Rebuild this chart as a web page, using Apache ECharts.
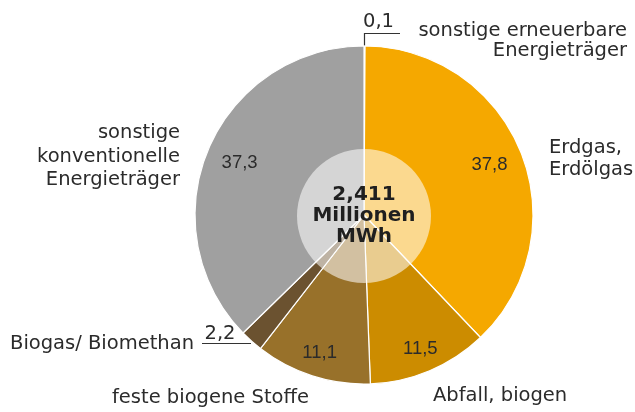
<!DOCTYPE html>
<html><head><meta charset="utf-8">
<script src="https://cdn.jsdelivr.net/npm/echarts@6/dist/echarts.min.js"></script>
<style>html,body{margin:0;padding:0;background:#fff}#c{width:635px;height:412px}</style>
</head><body><div id="c"></div>
<script>
// Data
const categories = ['sonstige erneuerbare Energieträger', 'Erdgas, Erdölgas', 'Abfall, biogen', 'feste biogene Stoffe', 'Biogas/ Biomethan', 'sonstige konventionelle Energieträger'];
const categoryLabelLines = [['sonstige erneuerbare', 'Energieträger'], ['Erdgas,', 'Erdölgas'], ['Abfall, biogen'], ['feste biogene Stoffe'], ['Biogas/ Biomethan'], ['sonstige', 'konventionelle', 'Energieträger']];
const shares = [0.1, 37.8, 11.5, 11.1, 2.2, 37.3];
const totalLabel = ['2,411', 'Millionen', 'MWh'];

// Styling
const colors = ['#ffffff', '#F5A800', '#CC8C00', '#98712A', '#6B5230', '#A0A0A0'];
const FONT = 'DejaVu Sans';
const VFONT = 'Liberation Sans';
const TXT = '#2b2b2b';
const fmt = v => String(v).replace('.', ',');

// label placement for outer texts (layout only)
const nameLayout = [
  {x: 627, y: 31, align: 'right', lh: 19.5},
  {x: 549, y: 148, align: 'left', lh: 22},
  {x: 433, y: 396, align: 'left', lh: 22},
  {x: 112, y: 398, align: 'left', lh: 22},
  {x: 10, y: 344, align: 'left', lh: 22},
  {x: 180, y: 133, align: 'right', lh: 23.5}
];
const NAMEFONT = '19.5px "' + FONT + '"';

const graphic = [];
categoryLabelLines.forEach((lines, i) => {
  const L = nameLayout[i];
  lines.forEach((t, k) => {
    graphic.push({type: 'text', x: L.x, y: L.y + k * L.lh,
      style: {text: t, font: NAMEFONT, fill: TXT, align: L.align, verticalAlign: 'middle'}});
  });
});
// small-value labels with leader lines
graphic.push({type: 'text', x: 363, y: 22, style: {text: fmt(shares[0]), font: NAMEFONT, fill: TXT, align: 'left', verticalAlign: 'middle'}});
graphic.push({type: 'polyline', shape: {points: [[400, 33.5], [364.5, 33.5], [364.5, 47]]}, style: {stroke: '#333', lineWidth: 1.2, fill: null}});
graphic.push({type: 'text', x: 220, y: 334, style: {text: fmt(shares[4]), font: NAMEFONT, fill: TXT, align: 'center', verticalAlign: 'middle'}});
graphic.push({type: 'polyline', shape: {points: [[202, 343.5], [251, 343.5]]}, style: {stroke: '#333', lineWidth: 1.2, fill: null}});

const valueLabel = {position: 'inside', fontFamily: VFONT, fontSize: 18.5, color: TXT, formatter: p => fmt(p.value)};

const chart = echarts.init(document.getElementById('c'), null, {renderer: 'canvas'});
chart.setOption({
  animation: false,
  graphic: graphic,
  series: [
    {
      type: 'pie', center: [364, 215], radius: [0, 169], startAngle: 90, clockwise: true,
      silent: true, label: {show: false}, labelLine: {show: false},
      itemStyle: {borderColor: '#fff', borderWidth: 1.2},
      data: shares.map((v, i) => ({name: categories[i], value: v, itemStyle: {color: colors[i]}}))
    },
    {
      // labels of the large slices
      type: 'pie', center: [364, 215], radius: [95, 169], startAngle: 90, clockwise: true,
      silent: true, labelLine: {show: false}, itemStyle: {color: 'rgba(0,0,0,0)'}, label: valueLabel,
      data: shares.map((v, i) => ({name: categories[i], value: v, label: {show: v >= 20}}))
    },
    {
      // labels of the medium slices
      type: 'pie', center: [364, 215], radius: [115, 169], startAngle: 90, clockwise: true,
      silent: true, labelLine: {show: false}, itemStyle: {color: 'rgba(0,0,0,0)'}, label: valueLabel,
      data: shares.map((v, i) => ({name: categories[i], value: v, label: {show: v >= 5 && v < 20}}))
    },
    {
      type: 'pie', center: [364, 216], radius: [0, 67], silent: true, labelLine: {show: false},
      itemStyle: {color: 'rgba(255,255,255,0.56)'},
      label: {position: 'center', formatter: totalLabel.join('\n'), fontFamily: FONT, fontWeight: 'bold', fontSize: 20, lineHeight: 21, color: '#1f1f1f'},
      data: [{name: 'Gesamt', value: 1}]
    }
  ]
});
</script></body></html>
